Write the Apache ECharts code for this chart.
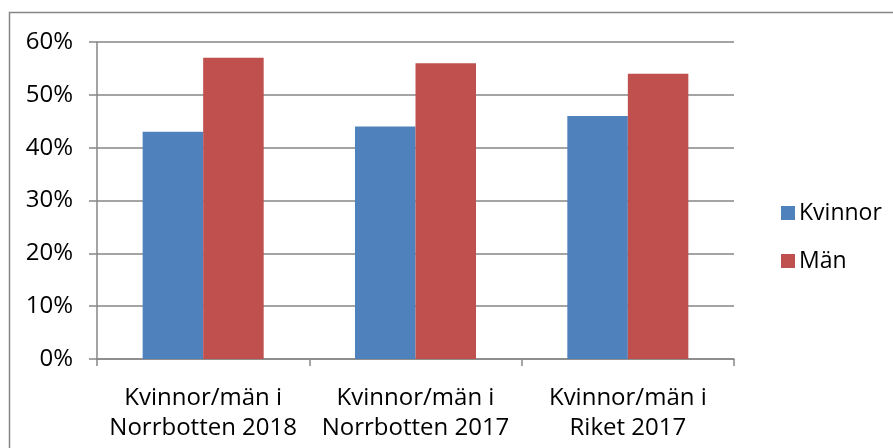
<!DOCTYPE html>
<html>
<head>
<meta charset="utf-8">
<script src="https://cdn.jsdelivr.net/npm/echarts@6/dist/echarts.min.js"></script>
<style>
    html, body { margin: 0; padding: 0; background: #fff; }
    #chart { width: 893px; height: 448px; }
</style>
</head>
<body>
<div id="chart"></div>
<script>
// Data
var categories = ['Kvinnor/män i\nNorrbotten 2018', 'Kvinnor/män i\nNorrbotten 2017', 'Kvinnor/män i\nRiket 2017'];
var kvinnor = [43, 44, 46];
var man = [57, 56, 54];
var seriesNames = ['Kvinnor', 'Män'];

var chart = echarts.init(document.getElementById('chart'));

chart.setOption({
    color: ['#4F81BD', '#C0504D'],
    textStyle: {
        fontFamily: '"Open Sans", "Noto Sans", sans-serif',
        fontSize: 24,
        color: '#000'
    },
    animation: false,

    // Outer chart border (Excel frame, cropped at right/bottom)
    graphic: [{
        type: 'rect',
        shape: { x: 9.5, y: 12.5, width: 900, height: 450 },
        style: { fill: 'none', stroke: '#868686', lineWidth: 1.5 },
        silent: true
    }],

    grid: {
        left: 97,
        right: 159,
        top: 42,
        bottom: 89
    },

    legend: {
        data: seriesNames,
        orient: 'vertical',
        left: 776,
        top: 195,
        itemWidth: 14,
        itemHeight: 14,
        itemGap: 22,
        icon: 'rect',
        textStyle: {
            fontSize: 23,
            lineHeight: 26,
            color: '#000',
            padding: [0, 0, 0, -1]
        }
    },

    xAxis: {
        type: 'category',
        data: categories,
        axisLine: { lineStyle: { color: '#868686', width: 1.5 } },
        axisTick: { show: true, length: 7, lineStyle: { color: '#868686', width: 1.5 } },
        axisLabel: {
            interval: 0,
            hideOverlap: false,
            color: '#000',
            fontSize: 24,
            lineHeight: 30,
            margin: 24
        },
        splitLine: { show: false }
    },

    yAxis: {
        type: 'value',
        min: 0,
        max: 60,
        interval: 10,
        axisLine: { show: true, lineStyle: { color: '#868686', width: 1.5 } },
        axisTick: { show: true, length: 8, lineStyle: { color: '#868686', width: 1.5 } },
        axisLabel: {
            formatter: '{value}%',
            color: '#000',
            fontSize: 24,
            margin: 24
        },
        splitLine: { lineStyle: { color: '#868686', width: 1.5 } }
    },

    series: [
        {
            name: seriesNames[0],
            type: 'bar',
            data: kvinnor,
            barGap: '0%',
            barCategoryGap: '43%'
        },
        {
            name: seriesNames[1],
            type: 'bar',
            data: man,
            barGap: '0%',
            barCategoryGap: '43%'
        }
    ]
});
</script>
</body>
</html>
